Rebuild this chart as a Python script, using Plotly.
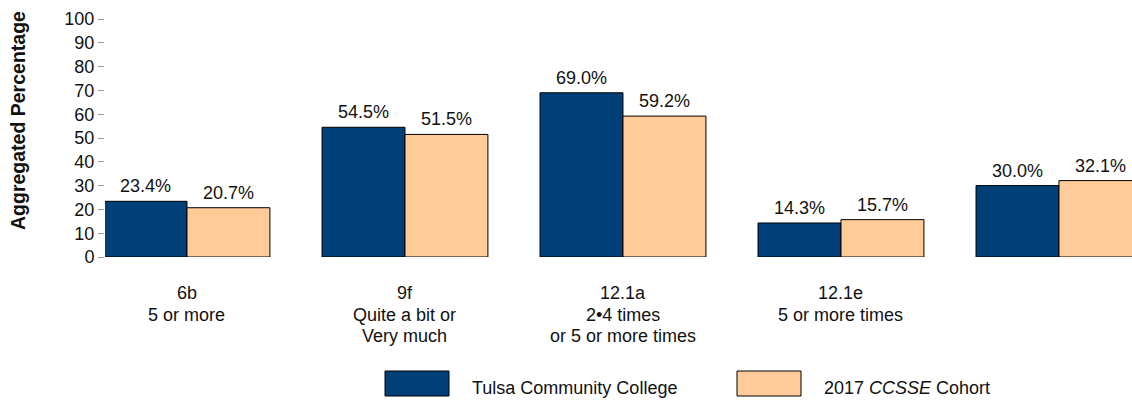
import plotly.graph_objects as go

# Item categories (last item has no printed label); lines separated by <br>
categories = ["6b<br>5 or more",
              "9f<br>Quite a bit or<br>Very much",
              "12.1a<br>2\u20224 times<br>or 5 or more times",
              "12.1e<br>5 or more times",
              ""]
college_values = [23.4, 54.5, 69.0, 14.3, 30.0]
cohort_values = [20.7, 51.5, 59.2, 15.7, 32.1]
series_names = ["Tulsa Community College", "2017 <i>CCSSE</i> Cohort"]
y_ticks = [0, 10, 20, 30, 40, 50, 60, 70, 80, 90, 100]

NAVY = "#013F78"
PEACH = "#FFCB99"
FONT = "Liberation Sans, Arial, sans-serif"
TXT = "#111111"

W, H = 1132, 401
ML, MR, MT, MB = 105, 0, 19, 144
PW, PH = W - ML - MR, H - MT - MB
BARGAP = 0.239
HALF = (1 - BARGAP) / 4  # offset of each bar centre from its category centre

x_pos = list(range(len(categories)))

fig = go.Figure()
for vals, color in ((college_values, NAVY), (cohort_values, PEACH)):
    fig.add_trace(go.Bar(
        x=x_pos, y=vals,
        marker=dict(color=color, line=dict(color="black", width=1)),
        cliponaxis=True,
        showlegend=False,
    ))

# Value labels above each bar
for vals, sign in ((college_values, -1), (cohort_values, 1)):
    for xi, v in zip(x_pos, vals):
        fig.add_annotation(x=xi + sign * HALF, y=v, xref="x", yref="y",
                           text=f"{v:.1f}%", showarrow=False,
                           xanchor="center", yanchor="bottom", yshift=3,
                           font=dict(family=FONT, size=18, color=TXT))

fig.update_layout(
    width=W, height=H,
    margin=dict(l=ML, r=MR, t=MT, b=MB),
    paper_bgcolor="white", plot_bgcolor="white",
    barmode="group", bargap=BARGAP, bargroupgap=0,
    font=dict(family=FONT, size=18, color=TXT),
    xaxis=dict(
        range=[-0.376, 4.335],
        tickvals=x_pos, showticklabels=False,
        showgrid=False, zeroline=False, showline=False, ticks="",
    ),
    yaxis=dict(
        range=[0, 100], tickvals=y_ticks,
        showgrid=False, zeroline=False, showline=False,
        ticks="outside", ticklen=6, tickcolor="#999", tickwidth=1,
        tickfont=dict(family=FONT, size=18, color=TXT),
    ),
)

# Category labels, one annotation per line for tight line spacing
LINE_STEP = 21.5
for xi, label in zip(x_pos, categories):
    if not label:
        continue
    for k, line in enumerate(label.split("<br>")):
        fig.add_annotation(x=xi, y=0, xref="x", yref="y",
                           text=line, showarrow=False,
                           xanchor="center", yanchor="middle",
                           yshift=-(36 + k * LINE_STEP),
                           font=dict(family=FONT, size=18, color=TXT))

# Y-axis title
fig.add_annotation(xref="paper", yref="paper",
                   x=(18 - ML) / PW, y=(257 - 121) / PH,
                   xanchor="center", yanchor="middle", showarrow=False,
                   textangle=-90, text="<b>Aggregated Percentage</b>",
                   font=dict(family=FONT, size=19.5, color=TXT))

# Legend drawn below the plot
legend_items = [(NAVY, 385, series_names[0], 470), (PEACH, 737, series_names[1], 822)]
for color, x0, label, tx in legend_items:
    fig.add_shape(type="rect", xref="paper", yref="paper",
                  x0=(x0 - ML) / PW, x1=(x0 + 64 - ML) / PW,
                  y0=(257 - 396) / PH, y1=(257 - 371) / PH,
                  fillcolor=color, line=dict(color="black", width=1))
    fig.add_annotation(xref="paper", yref="paper",
                       x=(tx - ML) / PW, y=(257 - 388) / PH,
                       xanchor="left", yanchor="middle", showarrow=False,
                       text=label, font=dict(family=FONT, size=18, color=TXT))

fig.write_html("out.html")
